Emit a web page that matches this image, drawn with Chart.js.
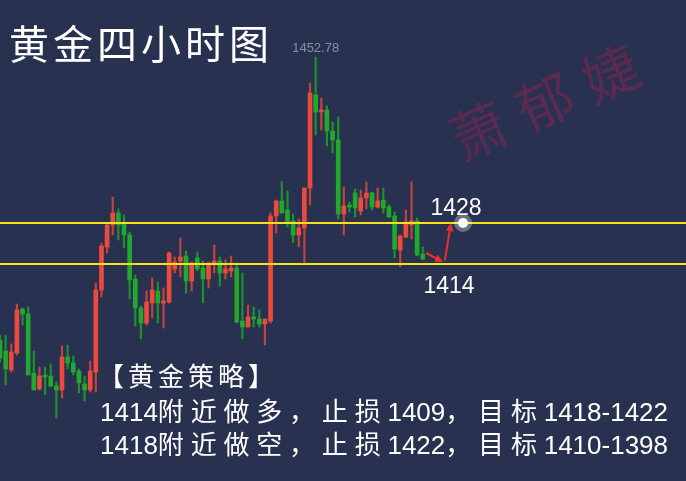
<!DOCTYPE html>
<html>
<head>
<meta charset="utf-8">
<script src="https://cdn.jsdelivr.net/npm/chart.js@4.4.1/dist/chart.umd.min.js"></script>
<style>
  html, body { margin: 0; padding: 0; background: #293150; }
  canvas { display: block; }
</style>
</head>
<body>
<canvas id="chart" width="686" height="481"></canvas>
<script>
// ===== Gold 4H candles =====
const candleOpen = [
    1396.2, 1394.0, 1390.2, 1393.6, 1402.4, 1401.4, 1389.6, 1386.4, 1389.2, 1389.0,
    1387.0, 1386.2, 1392.8, 1391.6, 1390.0, 1387.4, 1386.2, 1389.8, 1406.2, 1414.8,
    1419.2, 1421.6, 1419.6, 1417.2, 1408.4, 1402.6, 1399.6, 1403.6, 1406.0, 1403.6,
    1403.8, 1410.4, 1412.0, 1413.0, 1408.0, 1412.6, 1410.6, 1408.4, 1411.6, 1412.0,
    1409.6, 1410.0, 1410.6, 1400.0, 1398.8, 1400.8, 1400.4, 1399.4, 1400.0, 1421.0,
    1424.0, 1422.2, 1420.0, 1417.2, 1418.6, 1426.6, 1445.2, 1441.8, 1442.2, 1438.0,
    1436.2, 1421.4, 1423.2, 1425.6, 1422.0, 1424.6, 1425.6, 1422.8, 1424.2, 1422.8,
    1421.0, 1414.2, 1416.8, 1419.2, 1420.0, 1413.4
];
const candleHigh = [
    1397.2, 1397.2, 1395.4, 1403.4, 1402.6, 1402.8, 1394.0, 1390.8, 1390.8, 1391.4,
    1387.8, 1395.0, 1395.2, 1393.0, 1390.4, 1389.0, 1392.0, 1407.6, 1415.6, 1419.6,
    1424.8, 1422.4, 1421.2, 1417.8, 1409.2, 1403.0, 1406.0, 1408.6, 1407.8, 1406.6,
    1413.8, 1412.8, 1416.6, 1414.0, 1411.8, 1413.8, 1412.0, 1411.8, 1415.2, 1412.8,
    1412.2, 1413.0, 1411.6, 1409.6, 1403.2, 1402.8, 1402.2, 1400.4, 1421.6, 1424.2,
    1428.0, 1426.0, 1421.4, 1420.4, 1426.6, 1447.6, 1452.78, 1444.6, 1443.0, 1439.8,
    1440.8, 1426.8, 1423.8, 1426.4, 1426.2, 1427.8, 1425.8, 1426.6, 1426.6, 1423.2,
    1421.8, 1417.2, 1422.2, 1427.8, 1420.6, 1414.8
];
const candleLow = [
    1391.8, 1387.2, 1389.8, 1393.2, 1399.2, 1389.2, 1386.2, 1386.2, 1385.2, 1386.8,
    1380.6, 1384.6, 1390.4, 1389.2, 1385.6, 1384.0, 1385.8, 1385.8, 1404.8, 1413.6,
    1417.2, 1416.2, 1414.6, 1404.4, 1399.0, 1396.4, 1399.2, 1400.6, 1399.6, 1398.6,
    1403.6, 1409.6, 1408.8, 1405.6, 1406.0, 1410.0, 1403.6, 1406.6, 1409.6, 1407.0,
    1408.4, 1408.8, 1399.6, 1396.4, 1398.8, 1398.8, 1398.8, 1395.2, 1399.6, 1417.6,
    1421.6, 1418.8, 1415.6, 1414.8, 1411.4, 1423.2, 1437.2, 1438.2, 1435.0, 1433.6,
    1420.4, 1417.2, 1421.8, 1420.8, 1421.2, 1422.4, 1422.2, 1422.6, 1421.6, 1420.8,
    1412.6, 1410.8, 1416.6, 1416.4, 1413.0, 1412.2
];
const candleClose = [
    1392.6, 1390.4, 1393.8, 1402.2, 1401.4, 1389.2, 1386.2, 1389.0, 1388.8, 1387.0,
    1386.2, 1392.8, 1391.6, 1389.8, 1387.6, 1386.2, 1390.0, 1406.2, 1415.0, 1419.2,
    1421.6, 1419.2, 1417.2, 1408.2, 1402.6, 1399.6, 1403.8, 1406.2, 1403.6, 1404.0,
    1413.6, 1411.8, 1412.8, 1408.0, 1411.6, 1410.4, 1408.4, 1411.6, 1412.0, 1409.6,
    1410.4, 1410.6, 1399.8, 1398.8, 1400.8, 1400.4, 1399.4, 1400.4, 1421.0, 1424.0,
    1421.6, 1419.6, 1417.2, 1418.6, 1426.6, 1445.6, 1441.8, 1442.2, 1438.0, 1436.2,
    1421.4, 1423.0, 1422.8, 1422.6, 1424.6, 1425.6, 1422.8, 1424.0, 1422.6, 1420.8,
    1414.4, 1417.0, 1419.8, 1420.0, 1413.2, 1412.4
];

// horizontal yellow levels (where they sit on the price scale)
const levelUpper = 1419.6;
const levelLower = 1411.4;

// visible window
const xMin = 0, xMax = 121.7;
const yMin = 1368.0, yMax = 1464.2;

// texts
const titleText = '黄金四小时图';
const watermarkChars = ['萧', '郁', '婕'];
const targetUpText = '1428';
const targetDownText = '1414';
const strategyLines = [
    '【黄金策略】',
    '1414附近做多，止损1409，目标1418-1422',
    '1418附近做空，止损1422，目标1410-1398'
];

// annotation points in chart units
const arrowDown = { from: [75.6, 1413.6], to: [78.6, 1411.8] };
const arrowUp = { from: [78.9, 1412.0], to: [80.0, 1419.6] };
const targetDot = [82.15, 1419.6];

const UP = '#ec4a3c', DOWN = '#21a82d';
const UP_WICK = '#bf453d', DOWN_WICK = '#20902d';

const bodies = candleOpen.map((o, i) => ({ x: i, y: [o, candleClose[i]] }));
const wicks = candleOpen.map((o, i) => ({ x: i, y: [candleLow[i], candleHigh[i]] }));
const isUp = candleOpen.map((o, i) => candleClose[i] >= o);

// draw text where wide (CJK) glyphs get extra room but digits stay tight
function spacedText(ctx, text, x, y, cjkGap) {
    for (const ch of text) {
        ctx.fillText(ch, x, y);
        x += ctx.measureText(ch).width + (ch.charCodeAt(0) > 0x2000 ? cjkGap : 0);
    }
}

const decorPlugin = {
    id: 'decor',
    beforeDraw(chart) {
        const ctx = chart.ctx;
        ctx.save();
        ctx.fillStyle = '#293150';
        ctx.fillRect(0, 0, chart.width, chart.height);
        ctx.restore();
    },
    beforeDatasetsDraw(chart) {
        // watermark
        const ctx = chart.ctx;
        ctx.save();
        ctx.translate(545, 102);
        ctx.rotate(-0.41);
        ctx.fillStyle = 'rgba(125, 38, 82, 0.6)';
        ctx.font = '56px "Noto Sans CJK SC"';
        ctx.textAlign = 'center';
        ctx.textBaseline = 'middle';
        watermarkChars.forEach((c, k) => ctx.fillText(c, (k - 1) * 72, 0));
        ctx.restore();
    },
    afterDraw(chart) {
        const ctx = chart.ctx;
        const xs = chart.scales.x, ys = chart.scales.y;
        const px = v => xs.getPixelForValue(v);
        const py = v => ys.getPixelForValue(v);
        ctx.save();

        // title
        ctx.fillStyle = '#ffffff';
        ctx.textBaseline = 'middle';
        ctx.textAlign = 'left';
        ctx.font = '40px "Noto Sans CJK SC"';
        ctx.letterSpacing = '4px';
        ctx.fillText(titleText, 9, 44);
        ctx.letterSpacing = '0px';

        // max label
        let hi = 0;
        candleHigh.forEach((h, i) => { if (h > candleHigh[hi]) hi = i; });
        ctx.fillStyle = '#8b8f9d';
        ctx.font = '13px "Liberation Sans"';
        ctx.textAlign = 'center';
        ctx.fillText(candleHigh[hi].toFixed(2), px(hi), py(candleHigh[hi]) - 9);

        // arrows
        const drawArrow = (a) => {
            const x1 = px(a.from[0]), y1 = py(a.from[1]);
            const x2 = px(a.to[0]), y2 = py(a.to[1]);
            const ang = Math.atan2(y2 - y1, x2 - x1);
            ctx.strokeStyle = '#e8302c';
            ctx.fillStyle = '#e8302c';
            ctx.lineWidth = 2;
            ctx.beginPath();
            ctx.moveTo(x1, y1);
            ctx.lineTo(x2 - Math.cos(ang) * 4, y2 - Math.sin(ang) * 4);
            ctx.stroke();
            ctx.beginPath();
            ctx.moveTo(x2, y2);
            ctx.lineTo(x2 - Math.cos(ang - 0.45) * 9, y2 - Math.sin(ang - 0.45) * 9);
            ctx.lineTo(x2 - Math.cos(ang + 0.45) * 9, y2 - Math.sin(ang + 0.45) * 9);
            ctx.closePath();
            ctx.fill();
        };
        drawArrow(arrowDown);
        drawArrow(arrowUp);

        // target dot with halo
        const dx = px(targetDot[0]), dy = py(targetDot[1]);
        ctx.fillStyle = 'rgba(255,255,255,0.3)';
        ctx.beginPath(); ctx.arc(dx, dy, 9, 0, Math.PI * 2); ctx.fill();
        ctx.fillStyle = '#ffffff';
        ctx.beginPath(); ctx.arc(dx, dy, 5, 0, Math.PI * 2); ctx.fill();

        // level labels
        ctx.fillStyle = '#ffffff';
        ctx.font = '23px "Liberation Sans"';
        ctx.textAlign = 'center';
        ctx.fillText(targetUpText, 456, 209);
        ctx.fillText(targetDownText, 449, 287);

        // strategy text
        ctx.textAlign = 'left';
        ctx.font = '26px "Liberation Sans", "Noto Sans CJK SC"';
        spacedText(ctx, strategyLines[0], 98, 379, 4);
        spacedText(ctx, strategyLines[1], 100, 414, 6.8);
        spacedText(ctx, strategyLines[2], 100, 447, 6.8);
        ctx.restore();
    }
};

new Chart(document.getElementById('chart'), {
    type: 'bar',
    data: {
        datasets: [
            {
                type: 'line',
                data: [{ x: xMin, y: levelUpper }, { x: xMax, y: levelUpper }],
                borderColor: '#f6e21c',
                borderWidth: 2,
                pointRadius: 0,
                order: -2
            },
            {
                type: 'line',
                data: [{ x: xMin, y: levelLower }, { x: xMax, y: levelLower }],
                borderColor: '#f6e21c',
                borderWidth: 2,
                pointRadius: 0,
                order: -1
            },
            {
                data: bodies,
                backgroundColor: isUp.map(u => u ? UP : DOWN),
                barThickness: 4,
                minBarLength: 1,
                grouped: false,
                borderWidth: 0,
                order: 0
            },
            {
                data: wicks,
                backgroundColor: isUp.map(u => u ? UP_WICK : DOWN_WICK),
                barThickness: 1.5,
                grouped: false,
                borderWidth: 0,
                order: 1
            }
        ]
    },
    options: {
        responsive: false,
        animation: false,
        layout: { padding: 0 },
        plugins: { legend: { display: false }, tooltip: { enabled: false } },
        scales: {
            x: { type: 'linear', min: xMin, max: xMax, offset: false, display: false },
            y: { type: 'linear', min: yMin, max: yMax, display: false }
        }
    },
    plugins: [decorPlugin]
});
</script>
</body>
</html>
